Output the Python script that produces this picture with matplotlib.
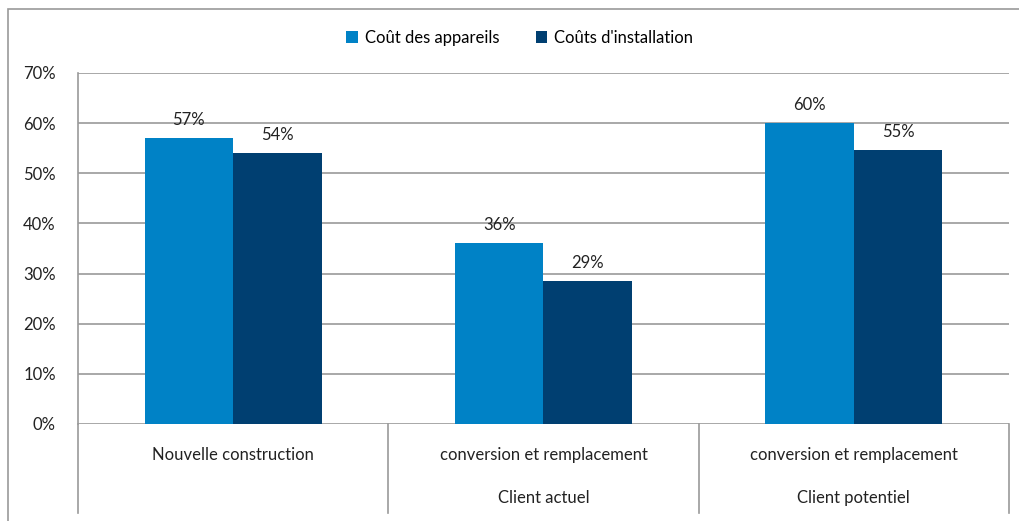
import matplotlib.pyplot as plt
import numpy as np
from matplotlib.patches import Rectangle
from matplotlib.ticker import MultipleLocator, PercentFormatter

plt.rcParams['font.family'] = ['Lato', 'DejaVu Sans']

# Données
groupes = ['Nouvelle construction', 'conversion et remplacement', 'conversion et remplacement']
sous_groupes = ['', 'Client actuel', 'Client potentiel']
series = ["Coût des appareils", "Coûts d'installation"]
cout_appareils = [0.57, 0.36, 0.60]
cout_installation = [0.54, 0.286, 0.546]
couleurs = ['#0082C6', '#003F71']
gris = '#9A9A9A'
fs = 12

fig = plt.figure(figsize=(10.19, 5.21), dpi=100)
ax = fig.add_axes([0.0765, 0.1862, 0.9137, 0.6737])

# Cadre du graphique
fig.patches.append(Rectangle((8 / 1019, -0.1), 1.1, 1 - 9 / 521 + 0.1,
                             transform=fig.transFigure, fill=False,
                             edgecolor=gris, linewidth=1.2))

x = np.arange(len(groupes))
w = 0.285
valeurs = [cout_appareils, cout_installation]
for i, (nom, vals) in enumerate(zip(series, valeurs)):
    pos = x + (i - 0.5) * w
    ax.bar(pos, vals, width=w, color=couleurs[i], label=nom, zorder=3)
    for px, v in zip(pos, vals):
        ax.text(px, v + 0.02, f'{round(v * 100)}%', ha='center', va='bottom',
                fontsize=fs, color='#222222', zorder=4)

ax.set_xlim(-0.5, 2.5)
ax.set_ylim(0, 0.7)
ax.yaxis.set_major_locator(MultipleLocator(0.1))
ax.yaxis.set_major_formatter(PercentFormatter(1.0, decimals=0))
ax.tick_params(axis='y', length=0, pad=16, labelsize=fs, labelcolor='#222222')
ax.set_xticks([])
ax.grid(axis='y', color=gris, linewidth=1.2, zorder=0)
for s in ['top', 'right', 'bottom']:
    ax.spines[s].set_visible(False)
ax.spines['left'].set_color(gris)
ax.spines['left'].set_linewidth(1.2)

# Lignes de séparation des catégories sous l'axe
trans = ax.get_xaxis_transform()
for sep in np.arange(-0.5, 3, 1):
    ax.plot([sep, sep], [0, -0.2536], transform=trans, color=gris,
            linewidth=1.2, clip_on=False)
for xi, g, sg in zip(x, groupes, sous_groupes):
    ax.text(xi, -0.088, g, transform=trans, ha='center', va='center',
            fontsize=fs, color='#222222')
    if sg:
        ax.text(xi, -0.212, sg, transform=trans, ha='center', va='center',
                fontsize=fs, color='#222222')

fig.legend(loc='center', bbox_to_anchor=(0.51, 1 - 38 / 521), ncol=2,
           frameon=False, fontsize=fs, handlelength=0.7, handleheight=0.7,
           handletextpad=0.4, columnspacing=2.2)

fig.savefig('out.png', dpi=100)
